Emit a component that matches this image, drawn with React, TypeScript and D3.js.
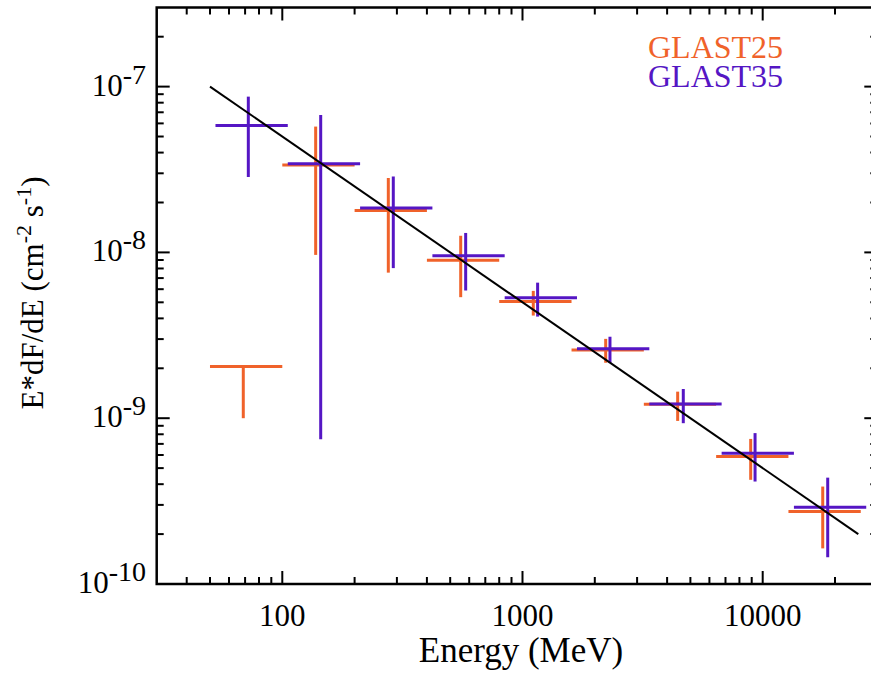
import React from "react";
import * as d3 from "d3";

// ---------- data ----------
const g25Energy = [68.8, 137.7, 276.3, 553, 1109, 2220, 4426, 8913, 17780];
const g25BinLo = [50, 100, 200, 400, 800, 1600, 3200, 6400, 12800];
const g25BinHi = [100, 200, 400, 800, 1600, 3200, 6400, 12800, 25600];
const g25Flux = [2.05e-9, 3.37e-8, 1.79e-8, 8.97e-9, 5.05e-9, 2.58e-9, 1.215e-9, 5.87e-10, 2.74e-10];
const g25ErrHi = [2.05e-9, 5.74e-8, 2.81e-8, 1.26e-8, 5.86e-9, 3.01e-9, 1.446e-9, 7.5e-10, 3.87e-10];
const g25ErrLo = [1.0e-9, 9.66e-9, 7.55e-9, 5.37e-9, 4.16e-9, 2.16e-9, 9.63e-10, 4.25e-10, 1.64e-10];

const g35Energy = [72.2, 144.5, 289.8, 580, 1156, 2313, 4671, 9294, 18650];
const g35BinLo = [52.7, 105.4, 210.8, 421.6, 843, 1686, 3373, 6746, 13490];
const g35BinHi = [105.4, 210.8, 421.6, 843, 1686, 3373, 6746, 13490, 26980];
const g35Flux = [5.82e-8, 3.42e-8, 1.85e-8, 9.53e-9, 5.33e-9, 2.62e-9, 1.22e-9, 6.15e-10, 2.9e-10];
const g35ErrHi = [8.7e-8, 6.75e-8, 2.87e-8, 1.31e-8, 6.57e-9, 3.1e-9, 1.5e-9, 8.13e-10, 4.38e-10];
const g35ErrLo = [2.85e-8, 7.46e-10, 8.04e-9, 5.89e-9, 4.1e-9, 2.15e-9, 9.33e-10, 4.15e-10, 1.45e-10];

const fitEnergy = [50, 25000];
const fitFlux = [1e-7, 2e-10];

const xMajorTicks = [100, 1000, 10000];
const xTickLabels = ["100", "1000", "10000"];
const yMajorTicks = [1e-7, 1e-8, 1e-9, 1e-10];
const yTickExponents = ["-7", "-8", "-9", "-10"];

const seriesNames = ["GLAST25", "GLAST35"];
const seriesColors = ["#F0622A", "#5516C4"];

// ---------- layout ----------
const W = 871;
const H = 675;
const L = 156.7;
const R = 877.3;
const T = 7.5;
const B = 584;
const FONT = "'Liberation Serif', 'Times New Roman', serif";

const x = d3.scaleLog().domain([30, 30000]).range([L, R]);
const y = d3.scaleLog().domain([1e-10, 3e-7]).range([B, T]);

function minorTicks(lo: number, hi: number): number[] {
  const out: number[] = [];
  for (let e = Math.floor(Math.log10(lo)); e <= Math.ceil(Math.log10(hi)); e++) {
    for (let m = 2; m <= 9; m++) {
      const v = m * Math.pow(10, e);
      if (v > lo * 1.0001 && v < hi * 0.9999) out.push(v);
    }
  }
  return out;
}

const xMinor = minorTicks(30, 30000);
const yMinor = minorTicks(1e-10, 3e-7);

function Series({ idx, energy, lo, hi, flux, eHi, eLo }: any) {
  const c = seriesColors[idx];
  return (
    <g stroke={c} strokeWidth={3} fill="none">
      {energy.map((e: number, i: number) => (
        <g key={i}>
          <line x1={x(lo[i])} x2={x(hi[i])} y1={y(flux[i])} y2={y(flux[i])} />
          <line x1={x(e)} x2={x(e)} y1={y(eHi[i])} y2={y(eLo[i])} />
        </g>
      ))}
    </g>
  );
}

export default function App() {
  const line = d3
    .line<number>()
    .x((_, i) => x(fitEnergy[i]))
    .y((d) => y(d));
  const MAJ = 13;
  const MIN = 7;
  return (
    <svg
      width={W}
      height={H}
      style={{ position: "absolute", left: 0, top: 0, background: "#fff" }}
      fontFamily={FONT}
    >
      <rect x={0} y={0} width={W} height={H} fill="#fff" />

      {/* data */}
      <Series idx={0} energy={g25Energy} lo={g25BinLo} hi={g25BinHi} flux={g25Flux} eHi={g25ErrHi} eLo={g25ErrLo} />
      <Series idx={1} energy={g35Energy} lo={g35BinLo} hi={g35BinHi} flux={g35Flux} eHi={g35ErrHi} eLo={g35ErrLo} />
      <path d={line(fitFlux) || ""} stroke="#000" strokeWidth={2} fill="none" />

      {/* frame */}
      <rect x={L} y={T} width={R - L} height={B - T} fill="none" stroke="#000" strokeWidth={2.5} />

      {/* ticks */}
      <g stroke="#000" strokeWidth={2}>
        {xMajorTicks.map((v) => (
          <g key={"xM" + v}>
            <line x1={x(v)} x2={x(v)} y1={B} y2={B - MAJ} />
            <line x1={x(v)} x2={x(v)} y1={T} y2={T + MAJ} />
          </g>
        ))}
        {xMinor.map((v) => (
          <g key={"xm" + v}>
            <line x1={x(v)} x2={x(v)} y1={B} y2={B - MIN} />
            <line x1={x(v)} x2={x(v)} y1={T} y2={T + MIN} />
          </g>
        ))}
        {yMajorTicks.map((v) => (
          <g key={"yM" + v}>
            <line x1={L} x2={L + MAJ} y1={y(v)} y2={y(v)} />
            <line x1={R} x2={R - MAJ} y1={y(v)} y2={y(v)} />
          </g>
        ))}
        {yMinor.map((v) => (
          <g key={"ym" + v}>
            <line x1={L} x2={L + MIN} y1={y(v)} y2={y(v)} />
            <line x1={R} x2={R - MIN} y1={y(v)} y2={y(v)} />
          </g>
        ))}
      </g>

      {/* x tick labels */}
      <g fontSize={31} textAnchor="middle" fill="#000">
        {xMajorTicks.map((v, i) => (
          <text key={"xl" + v} x={x(v)} y={626}>
            {xTickLabels[i]}
          </text>
        ))}
      </g>

      {/* y tick labels */}
      <g fill="#000" textAnchor="end">
        {yMajorTicks.map((v, i) => (
          <text key={"yl" + v} x={146} y={y(v) + 9} fontSize={31}>
            10
            <tspan fontSize={28} dy={-12}>
              {yTickExponents[i]}
            </tspan>
          </text>
        ))}
      </g>

      {/* axis titles */}
      <text x={521} y={662} fontSize={35} textAnchor="middle" fill="#000">
        Energy (MeV)
      </text>
      <text
        transform={`translate(43, 293) rotate(-90)`}
        fontSize={31}
        textAnchor="middle"
        fill="#000"
      >
        E*dF/dE (cm
        <tspan fontSize={22} dy={-12}>-2</tspan>
        <tspan dy={12}> s</tspan>
        <tspan fontSize={22} dy={-12}>-1</tspan>
        <tspan dy={12}>)</tspan>
      </text>

      {/* legend */}
      <g fontSize={32}>
        {seriesNames.map((n, i) => (
          <text key={n} x={648} y={58 + i * 28.7} fill={seriesColors[i]}>
            {n}
          </text>
        ))}
      </g>
    </svg>
  );
}
